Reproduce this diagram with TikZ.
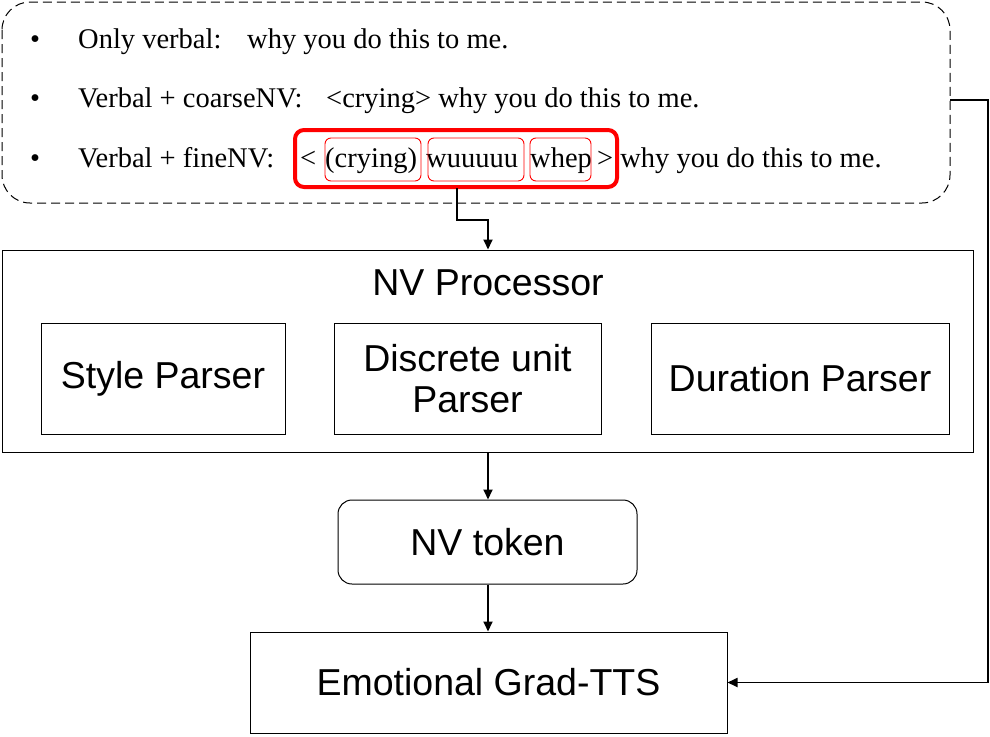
\documentclass[tikz,border=0pt]{standalone}
\usepackage{fontspec}
\setmainfont{Liberation Serif}
\newfontfamily\arial{Liberation Sans}
\usetikzlibrary{arrows.meta}
\begin{document}
\begin{tikzpicture}[x=1pt,y=-1pt,
  box/.style={draw,line width=1pt},
  lab/.style={font=\arial\fontsize{37.5}{40}\selectfont,align=center},
  txt/.style={font=\fontsize{28.5}{32}\selectfont,anchor=base west,inner sep=0},
  arr/.style={line width=1.8pt,-{Triangle[length=10pt,width=9pt]}},
  rb/.style={draw=red,line width=0.9pt,rounded corners=6pt}]
\useasboundingbox (0,0) rectangle (990,736);
\draw[dash pattern=on 9pt off 5pt,line width=1pt,rounded corners=28pt] (2,2) rectangle (950,203);
\coordinate (tr) at (950,100);
\foreach \y in {48,107,167} \node[txt] at (30,\y) {•};
\node[txt] at (78,48) {Only verbal:};
\node[txt] at (247,48) {why you do this to me.};
\node[txt] at (78,107) {Verbal + coarseNV:};
\node[txt] at (326,107) {<crying> why you do this to me.};
\node[txt] at (78,167) {Verbal + fineNV:};
\node[txt] at (300,167) {<};
\node[txt] at (325,167) {(crying)};
\node[txt] at (426,167) {wuuuuu};
\node[txt] at (530,167) {whep};
\node[txt] at (597,167) {> why you do this to me.};
\draw[rb] (325,138) rectangle (421,181);
\draw[rb] (428,138) rectangle (524,181);
\draw[rb] (530,138) rectangle (591,181);
\draw[draw=red,line width=4pt,rounded corners=9pt] (295,130) rectangle (617,187);
\coordinate (rbot) at (457,188);
\coordinate (mid) at (488,220);
\node[box,minimum width=971,minimum height=202,inner sep=0] (proc) at (487.5,351) {};
\node[lab,anchor=base] at (488,295) {NV Processor};
\node[box,lab,minimum width=244,minimum height=111] (sp) at (163,378.5) {Style Parser};
\node[box,lab,minimum width=267,minimum height=111,inner sep=0] (dp) at (467.5,378.5) {Discrete unit\\[1pt]Parser};
\node[box,lab,minimum width=298,minimum height=111] (du) at (800,378.5) {Duration Parser};
\node[box,lab,rounded corners=14pt,minimum width=299,minimum height=84] (tok) at (487.5,542) {NV token};
\node[box,lab,minimum width=477,minimum height=101] (tts) at (488.5,682.5) {Emotional Grad-TTS};
\draw[arr] (rbot) |- (mid) -- (mid |- proc.north);
\draw[arr] (mid |- proc.south) -- (mid |- tok.north);
\draw[arr] (mid |- tok.south) -- (mid |- tts.north);
\draw[arr] (tr) -- (988,100) |- (tts.east);
\end{tikzpicture}
\end{document}
